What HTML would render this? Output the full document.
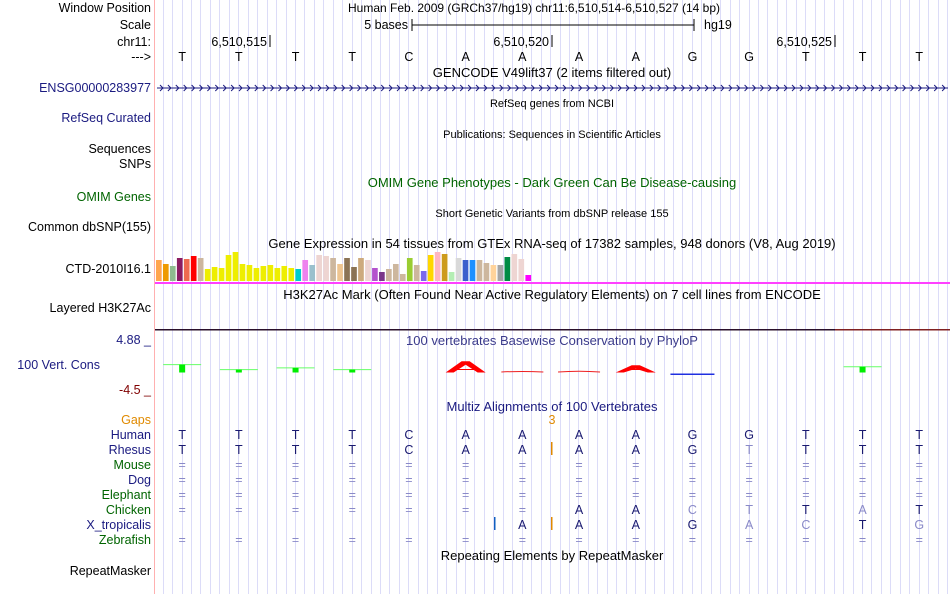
<!DOCTYPE html>
<html><head><meta charset="utf-8"><style>
html,body{margin:0;padding:0;background:#fff;}
svg{display:block;font-family:"Liberation Sans",sans-serif;}
</style></head><body>
<svg id="c" width="950" height="594" viewBox="0 0 950 594" xmlns="http://www.w3.org/2000/svg">
<g id="grid"></g>
<line x1="154.5" y1="0" x2="154.5" y2="594" stroke="#ffb0b0" stroke-width="1"/>
<g font-size="12.5" fill="#000" text-anchor="end">
<text x="151" y="12">Window Position</text>
<text x="151" y="29">Scale</text>
<text x="151" y="46">chr11:</text>
<text x="151" y="61">---&gt;</text>
<text x="151" y="92" fill="#1a1a80">ENSG00000283977</text>
<text x="151" y="122" fill="#1a1a80">RefSeq Curated</text>
<text x="151" y="153">Sequences</text>
<text x="151" y="168">SNPs</text>
<text x="151" y="201" fill="#006400">OMIM Genes</text>
<text x="151" y="231">Common dbSNP(155)</text>
<text x="151" y="273">CTD-2010I16.1</text>
<text x="151" y="312">Layered H3K27Ac</text>
<text x="151" y="344" fill="#1a1a80">4.88 _</text>
<text x="100" y="369" fill="#1a1a80">100 Vert. Cons</text>
<text x="151" y="394" fill="#800000">-4.5 _</text>
<text x="151" y="424" fill="#e08a00">Gaps</text>
<text x="151" y="439" fill="#1a1a80">Human</text>
<text x="151" y="454" fill="#1a1a80">Rhesus</text>
<text x="151" y="469" fill="#006400">Mouse</text>
<text x="151" y="484" fill="#1a1a80">Dog</text>
<text x="151" y="499" fill="#006400">Elephant</text>
<text x="151" y="514" fill="#006400">Chicken</text>
<text x="151" y="529" fill="#1a1a80">X_tropicalis</text>
<text x="151" y="544" fill="#006400">Zebrafish</text>
<text x="151" y="575">RepeatMasker</text>
</g>
<g font-size="12" fill="#000">
<text x="348" y="12">Human Feb. 2009 (GRCh37/hg19)   chr11:6,510,514-6,510,527 (14 bp)</text>
<text x="408" y="29" text-anchor="end" font-size="12.5">5 bases</text>
<line x1="412" y1="25" x2="694" y2="25" stroke="#000"/>
<line x1="412" y1="19" x2="412" y2="31" stroke="#000"/>
<line x1="694" y1="19" x2="694" y2="31" stroke="#000"/>
<text x="704" y="29" font-size="12.5">hg19</text>
<g font-size="12.5">
<text x="267" y="46" text-anchor="end">6,510,515</text>
<text x="549" y="46" text-anchor="end">6,510,520</text>
<text x="832" y="46" text-anchor="end">6,510,525</text>
</g>
<line x1="270" y1="35" x2="270" y2="47" stroke="#000"/>
<line x1="552" y1="35" x2="552" y2="47" stroke="#000"/>
<line x1="835" y1="35" x2="835" y2="47" stroke="#000"/>
</g>
<g id="bases" font-size="12.5" text-anchor="middle"></g>
<g text-anchor="middle">
<text x="552" y="77" font-size="13">GENCODE V49lift37 (2 items filtered out)</text>
<text x="552" y="107" font-size="11">RefSeq genes from NCBI</text>
<text x="552" y="138" font-size="11">Publications: Sequences in Scientific Articles</text>
<text x="552" y="187" font-size="13" fill="#006400">OMIM Gene Phenotypes - Dark Green Can Be Disease-causing</text>
<text x="552" y="217" font-size="11">Short Genetic Variants from dbSNP release 155</text>
<text x="552" y="248" font-size="13">Gene Expression in 54 tissues from GTEx RNA-seq of 17382 samples, 948 donors (V8, Aug 2019)</text>
<text x="552" y="299" font-size="13">H3K27Ac Mark (Often Found Near Active Regulatory Elements) on 7 cell lines from ENCODE</text>
<text x="552" y="345" font-size="13" fill="#3a3a8a">100 vertebrates Basewise Conservation by PhyloP</text>
<text x="552" y="411" font-size="13" fill="#1a1a80">Multiz Alignments of 100 Vertebrates</text>
<text x="552" y="424" font-size="12.5" fill="#e08a00">3</text>
<text x="552" y="560" font-size="13">Repeating Elements by RepeatMasker</text>
</g>
<g id="gencode"></g>
<g id="gtex"></g>
<rect x="155" y="282" width="795" height="2" fill="#ff40ff"/>
<rect x="155" y="329" width="680" height="1.5" fill="#2a102a"/>
<rect x="835" y="329" width="115" height="1.5" fill="#802020"/>
<g id="phylo"></g>
<g id="align" font-size="12.5" text-anchor="middle"></g>
</svg>
<script>
const baseSeq = ["T","T","T","T","C","A","A","A","A","G","G","T","T","T"];
const gtexHeights = [21,17,15,23,22,25,23,12,14,13,26,29,17,16,13,15,16,13,15,13,12,21,16,26,25,23,17,23,14,23,21,13,9,12,17,7,23,16,10,26,29,27,9,23,21,21,21,18,16,16,24,27,22,6];
const gtexColors = ["#FFA54F","#EE9A00","#8FBC8F","#8B1C62","#EE6A50","#FF0000","#CDB79E","#EEEE00","#EEEE00","#EEEE00","#EEEE00","#EEEE00","#EEEE00","#EEEE00","#EEEE00","#EEEE00","#EEEE00","#EEEE00","#EEEE00","#EEEE00","#00CDCD","#EE82EE","#9AC0CD","#EED5D2","#EED5D2","#CDB79E","#EEC591","#8B7355","#8B7355","#CDAA7D","#EED5D2","#B452CD","#7A378B","#CDB79E","#CDB79E","#CDB79E","#9ACD32","#CDB79E","#7B68EE","#FFD700","#FFB6C1","#CD9B1D","#B4EEB4","#D9D9D9","#3A5FCD","#1E90FF","#CDB79E","#CDB79E","#FFD39B","#A6A6A6","#008B45","#EED5D2","#EED5D2","#FF00FF"];
const phyloValues = [-2.2,-0.8,-1.3,-0.8,0,2.8,0.3,0.5,1.8,-0.3,0,0,-1.6,0];
const alignSpecies = ["Human","Rhesus","Mouse","Dog","Elephant","Chicken","X_tropicalis","Zebrafish"];
const alignSeqs = [
 "TTTTCAAAAGGTTT",
 "TTTTCAAAAGTTTT",
 "==============",
 "==============",
 "==============",
 "=======AACTTAT",
 "      AAAGACTG",
 "=============="];
const alignLight = [
 "..............",
 "..........x...",
 "..............",
 "..............",
 ".........x....",
 ".........xx.x.",
 "..........xx.x",
 ".............."];

const NS="http://www.w3.org/2000/svg";
function mk(tag,attrs,parent){const e=document.createElementNS(NS,tag);for(const k in attrs)e.setAttribute(k,attrs[k]);parent.appendChild(e);return e;}
const x0=153.2, bw=56.7;
function xBase(i){return x0+bw*(i+0.5)+0.6;}
const grid=document.getElementById('grid');
for(let k=1;x0+9.45*k<950;k++){const x=Math.round(x0+9.45*k)+0.5;const l=mk('line',{x1:x,y1:0,x2:x,y2:594,stroke:'#dcdcf8','stroke-width':1},grid);

}
const bases=document.getElementById('bases');
baseSeq.forEach((b,i)=>{const t=mk('text',{x:xBase(i),y:61},bases);t.textContent=b;

});
const gen=document.getElementById('gencode');
mk('line',{x1:157,y1:88,x2:948,y2:88,stroke:'#1a1a80','stroke-width':1},gen);
let d='';for(let x=160;x<946;x+=7.9){d+=`M${x.toFixed(1)},85 L${(x+3).toFixed(1)},88 L${x.toFixed(1)},91 `;}
const ap=mk('path',{d:d,stroke:'#1a1a80',fill:'none','stroke-width':1},gen);


const gtex=document.getElementById('gtex');
const gBase=281, gX=156, gW=6.97;
function gy(v){return gBase-v;}
gtexHeights.forEach((h,i)=>{const r=mk('rect',{x:(gX+gW*i).toFixed(2),y:gy(h),width:(gW-1.3).toFixed(2),height:h,fill:gtexColors[i]},gtex);

});
const ph=document.getElementById('phylo');
const pBase=372.5;
function py(v){return pBase-v*4;}
phyloValues.forEach((v,i)=>{
 const cx=xBase(i);
 if(v<-0.5){
  const top=pBase-((-v)*3.6);
  mk('line',{x1:cx-19,y1:top,x2:cx+19,y2:top,stroke:'#66ff66','stroke-width':1},ph);
  const r=mk('rect',{x:cx-3,y:top,width:6,height:pBase-top,fill:'#00ee00'},ph);
  
  
 } else if(v<0){
  const r=mk('rect',{x:cx-22,y:373.5,width:44,height:1.5,fill:'#2030e0'},ph);
  
  
 } else if(v>1){
  const top=py(v);
  const p=mk('path',{d:`M${cx-20},${pBase} L${cx-4},${top} L${cx+4},${top} L${cx+20},${pBase} L${cx+12},${pBase} L${cx},${top+3.5} L${cx-12},${pBase} Z`,fill:'#ff0000'},ph);
  
  
  mk('line',{x1:cx-12,y1:pBase-3,x2:cx+12,y2:pBase-3,stroke:'#ff0000','stroke-width':1},ph);
 } else if(v>0){
  const top=py(v);
  const p=mk('path',{d:`M${cx-21},${pBase-0.5} Q${cx},${pBase-(pBase-top)*0.5-1} ${cx+21},${pBase-0.5}`,fill:'none',stroke:'#ee2020','stroke-width':1},ph);
  
  
 }
});
const al=document.getElementById('align');
alignSeqs.forEach((s,r)=>{
 const y=439+15*r;
 for(let i=0;i<s.length;i++){
  const ch=s[i]; if(ch===' ')continue;
  const light=alignLight[r][i]==='x'||ch==='=';
  const t=mk('text',{x:xBase(i),y:y,fill:light?'#8a8ac8':'#1a1a70'},al);
  t.textContent=ch;
  
  
 }
});
mk('rect',{x:551,y:442,width:1.5,height:13,fill:'#e08a00'},al);
mk('rect',{x:551,y:517,width:1.5,height:13,fill:'#e08a00'},al);
mk('rect',{x:494,y:517,width:1.5,height:13,fill:'#1060c0'},al);
</script>
</body></html>
